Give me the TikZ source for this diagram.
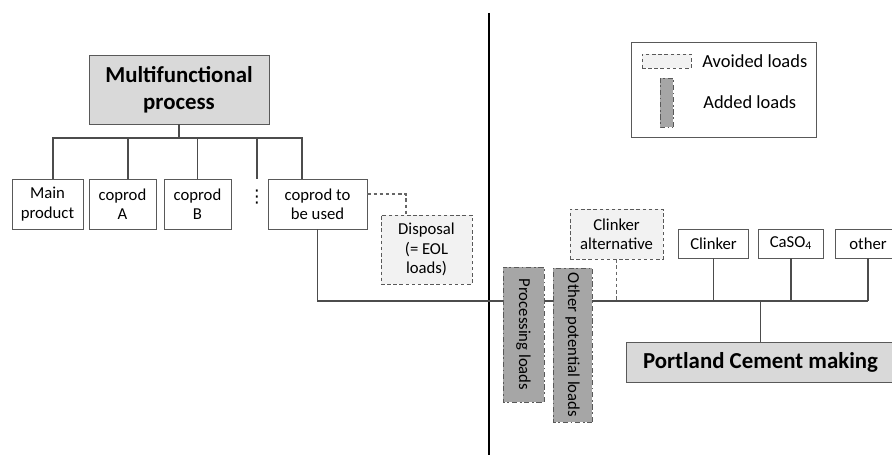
\documentclass[tikz,border=0pt]{standalone}
\usepackage{fontspec}
\setmainfont{Carlito}
\newfontfamily\symfont{DejaVu Sans}
\usepackage{tikz}
\usetikzlibrary{positioning, calc}
\usepackage{xcolor}
\definecolor{boxline}{HTML}{595959}
\definecolor{titlefill}{HTML}{D9D9D9}
\definecolor{avoidfill}{HTML}{F2F2F2}
\definecolor{addfill}{HTML}{A6A6A6}
\tikzset{
    prodbox/.style={
        draw=boxline,
        fill=white,
        align=center,
        inner sep=1pt,
        font=\fontsize{9.5}{11}\selectfont
    },
    titlebox/.style={
        draw=boxline,
        fill=titlefill,
        align=center,
        font=\fontsize{13}{15.5}\selectfont\bfseries
    },
    avoidbox/.style={
        draw=boxline,
        fill=avoidfill,
        dash pattern=on 2pt off 1.5pt,
        align=center,
        inner sep=1pt,
        font=\fontsize{9.5}{11}\selectfont
    },
    addbox/.style={
        draw=boxline,
        fill=addfill,
        dash pattern=on 3pt off 1.5pt on 1pt off 1.5pt,
        rotate=-90,
        inner sep=1pt,
        font=\fontsize{9.5}{11}\selectfont
    },
    link/.style={
        draw=black!70,
        semithick
    },
    avoidlink/.style={
        draw=black!60,
        semithick,
        dash pattern=on 2pt off 1.5pt
    }
}

\begin{document}
\begin{tikzpicture}

      \useasboundingbox (0,0) rectangle (17.84,9.1);
      \clip (0,0) rectangle (17.84,9.1);

      % multifunctional side
      \node[titlebox,minimum width=3.6cm,minimum height=1.38cm] (multi) at (3.58,7.31) {Multifunctional\\process};
      \coordinate (hub) at (3.58,6.34);

      \node[prodbox,minimum width=1.42cm,minimum height=1cm] (main) at (0.95,5.02) {Main\\product};
      \node[prodbox,minimum width=1.34cm,minimum height=1cm] (coA) at (2.45,5.02) {coprod\\A};
      \node[prodbox,minimum width=1.34cm,minimum height=1cm] (coB) at (3.95,5.02) {coprod\\B};
      \node[inner sep=0pt,font=\symfont\fontsize{10}{10}\selectfont] (dots) at (5.14,5.15) {⋮};
      \coordinate (dotstop) at (5.14,5.52);
      \node[prodbox,minimum width=1.98cm,minimum height=1cm] (use) at (6.35,5.02) {coprod to\\be used};
      \node[avoidbox,minimum width=1.82cm,minimum height=1.38cm] (disp) at (8.53,4.11) {Disposal\\(= EOL\\loads)};

      \draw[link] (multi.south) -- (hub);
      \draw[link] ([xshift=0.11cm]main.north) |- ([xshift=-0.31cm]use.north |- hub) -- ([xshift=-0.31cm]use.north);
      \draw[link] ([xshift=0.11cm]coA.north) -- ([xshift=0.11cm]coA.north |- hub);
      \draw[link] (coB.north) -- (coB.north |- hub);
      \draw[link] (dotstop) -- (dotstop |- hub);
      \draw[avoidlink] ([yshift=0.2cm]use.east) -| ([xshift=-0.41cm]disp.north);

      % divider
      \coordinate (divtop) at (9.78,8.84);
      \coordinate (divbot) at (9.78,0);
      \draw[line width=1.6pt] (divtop) -- (divbot);

      % cement side
      \node[avoidbox,minimum width=1.86cm,minimum height=1cm] (alt) at (12.33,4.42) {Clinker\\alternative};
      \node[prodbox,minimum width=1.4cm,minimum height=0.58cm] (clk) at (14.27,4.23) {Clinker};
      \node[prodbox,minimum width=1.3cm,minimum height=0.58cm] (caso) at (15.82,4.23) {CaSO\textsubscript{4}};
      \node[prodbox,minimum width=1.3cm,minimum height=0.58cm] (oth) at (17.36,4.23) {other};
      \node[titlebox,minimum width=5.38cm,minimum height=0.8cm] (pc) at (15.21,1.86) {Portland Cement making};
      \coordinate (busR) at (17.36,3.08);

      \draw[link] (use.south) |- (busR);
      \draw[avoidlink] (alt.south) -- (alt.south |- busR);
      \draw[link] (clk.south) -- (clk.south |- busR);
      \draw[link] (caso.south) -- (caso.south |- busR);
      \draw[link] (oth.south) -- (busR);
      \draw[link] (pc.north) -- (pc.north |- busR);

      \node[addbox,minimum width=2.7cm,minimum height=0.82cm] (proc) at (10.47,2.41) {Processing loads};
      \node[addbox,minimum width=3.08cm,minimum height=0.78cm] (othload) at (11.45,2.2) {Other potential loads};

      % legend
      \node[draw=boxline,minimum width=3.7cm,minimum height=1.9cm] (legend) at (14.47,7.31) {};
      \node[avoidbox,minimum width=0.98cm,minimum height=0.28cm] (keyav) at (13.33,7.88) {};
      \node[addbox,minimum width=0.98cm,minimum height=0.26cm] (keyad) at (13.33,7.05) {};
      \node[anchor=west,inner sep=0pt,font=\fontsize{10.5}{12}\selectfont] (avtext) at (14.04,7.88) {Avoided loads};
      \node[anchor=west,inner sep=0pt,font=\fontsize{10.5}{12}\selectfont] (adtext) at (14.06,7.05) {Added loads};

    \end{tikzpicture}
\end{document}
